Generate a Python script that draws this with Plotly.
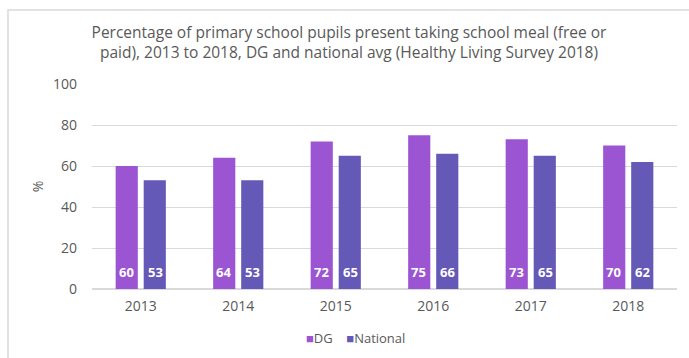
import plotly.graph_objects as go

years = ["2013", "2014", "2015", "2016", "2017", "2018"]
dg_values = [60, 64, 72, 75, 73, 70]
national_values = [53, 53, 65, 66, 65, 62]
y_ticks = [0, 20, 40, 60, 80, 100]

DG_COLOR = "#9B54D2"
NAT_COLOR = "#6459B6"
TEXT_GREY = "#595959"
FONT = "'Open Sans', Lato, sans-serif"

W, H = 689, 358
M_L, M_R, M_T, M_B = 92, 12, 84, 69
plot_w = W - M_L - M_R
plot_h = H - M_T - M_B

fig = go.Figure()
fig.add_trace(go.Bar(name="DG", x=years, y=dg_values, marker_color=DG_COLOR,
                     marker_line_width=0))
fig.add_trace(go.Bar(name="National", x=years, y=national_values,
                     marker_color=NAT_COLOR, marker_line_width=0))

# value labels near the base of each bar
for i, (dv, nv) in enumerate(zip(dg_values, national_values)):
    for val, shift in ((dv, -14.5), (nv, 14.5)):
        fig.add_annotation(x=i, y=0, xref="x", yref="y", text=f"<b>{val}</b>",
                           showarrow=False, xshift=shift, yshift=17,
                           yanchor="middle", xanchor="center",
                           font=dict(family=FONT, size=13, color="white"))

# pixel -> paper coordinate helpers
def px_x(p):
    return (p - M_L) / plot_w

def px_y(p):
    return (H - M_B - p) / plot_h

# compact legend row with small square swatches
legend_text = "&nbsp;&nbsp;&nbsp;&nbsp;".join(
    f"<span style='color:{tr.marker.color}'>■</span>{tr.name}" for tr in fig.data
)
fig.add_annotation(xref="paper", yref="paper", x=px_x(355), y=px_y(338),
                   xanchor="center", yanchor="middle", showarrow=False,
                   text=legend_text,
                   font=dict(family=FONT, size=13, color=TEXT_GREY))

# outer chart frame
fig.add_shape(type="rect", xref="paper", yref="paper",
              x0=px_x(8), x1=px_x(700), y0=px_y(370), y1=px_y(10),
              line=dict(color="#D9D9D9", width=1.5), fillcolor="rgba(0,0,0,0)",
              layer="below")

fig.update_layout(
    width=W, height=H,
    margin=dict(l=M_L, r=M_R, t=M_T, b=M_B, autoexpand=False),
    paper_bgcolor="white", plot_bgcolor="white",
    font=dict(family=FONT, color=TEXT_GREY, size=13),
    title=dict(
        text="Percentage of primary school pupils present taking school meal (free or<br>"
             "paid), 2013 to 2018, DG and national avg (Healthy Living Survey 2018)",
        x=349 / W, xanchor="center", xref="container",
        y=1 - 38 / H, yanchor="top", yref="container",
        font=dict(family=FONT, size=15.5, color=TEXT_GREY),
    ),
    barmode="group", bargap=0.425, bargroupgap=0.21,
    showlegend=False,
    xaxis=dict(type="category", range=[-0.5, len(years) - 0.5],
               showline=False, ticks="", showgrid=False, ticklabelstandoff=7,
               tickfont=dict(family=FONT, size=14, color=TEXT_GREY)),
    yaxis=dict(range=[0, 100], tickvals=y_ticks, showgrid=True,
               gridcolor="#D9D9D9", gridwidth=1, zeroline=True,
               zerolinecolor="#D9D9D9", zerolinewidth=1.5,
               ticks="", ticklabelstandoff=14,
               tickfont=dict(family=FONT, size=14, color=TEXT_GREY),
               title=dict(text="%", standoff=6,
                          font=dict(family=FONT, size=14, color=TEXT_GREY))),
)

fig.write_html("out.html")
